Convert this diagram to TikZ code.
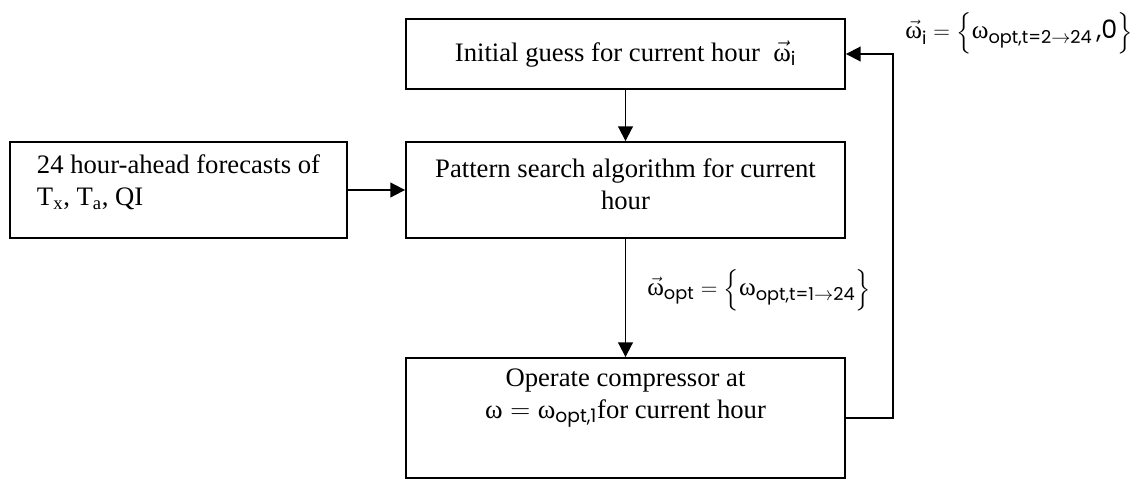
\documentclass[tikz,border=0pt]{standalone}
\usepackage{amsmath}
\usepackage{fontspec}
\setmainfont{Liberation Serif}
\newfontfamily\gothic{Poppins}
\usetikzlibrary{arrows.meta}
\newcommand{\om}{\text{\rmfamily ω}}
\newcommand{\gs}[1]{\text{\gothic #1}}

\begin{document}
\begin{tikzpicture}[x=0.75pt, y=-0.75pt,
  box/.style={draw, line width=1.4pt, align=center, inner sep=0pt,
    font=\fontsize{20}{24}\selectfont},
  arr/.style={-{Triangle[length=11pt,width=11pt]}, line width=1.4pt}]
\useasboundingbox (0,0) rectangle (1139,479);

\node[box, minimum width=329.25pt, minimum height=52.5pt] (guess) at (625.5,54)
  {Initial guess for current hour \ $\vec{\om}_{\gs{i}}$};
\node[box, minimum width=329.25pt, minimum height=72pt] (search) at (625.5,190)
  {Pattern search algorithm for current\\hour\\[-15pt]\mbox{}};
\node[box, align=left, minimum width=252.75pt, minimum height=72pt] (fcast) at (178.5,190)
  {24 hour-ahead forecasts of\\T\textsubscript{x}, T\textsubscript{a}, QI\\[-9pt]\mbox{}};
\node[box, minimum width=329.25pt, minimum height=90pt] (operate) at (625.5,418)
  {Operate compressor at\\$\om = \om_{\gs{opt,1}}$for current hour\\[12pt]\mbox{}};

\draw[arr] (guess) -- (search);
\draw[arr] (fcast) -- (search);
\draw[arr] (search) -- (operate);
\draw[arr] (operate.east) -- ++(47,0) |- (guess.east);

\node[font=\fontsize{19}{22}\selectfont] (optlbl) at (759,290)
  {$\vec{\om}_{\gs{opt}} = \Bigl\{\om_{\gs{opt,t=1}\rightarrow\gs{24}}\Bigr\}$};
\node[font=\fontsize{19}{22}\selectfont] (ilbl) at (1019,33)
  {$\vec{\om}_{\gs{i}} = \Bigl\{\om_{\gs{opt,t=2}\rightarrow\gs{24}}\,\text{\gothic ,0}\Bigr\}$};
\end{tikzpicture}
\end{document}
